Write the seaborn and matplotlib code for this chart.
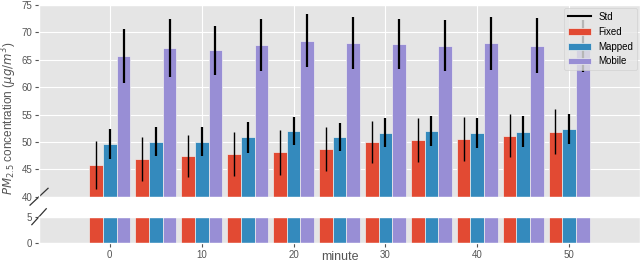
import numpy as np
import pandas as pd
import seaborn as sns
import matplotlib
matplotlib.use("Agg")
from matplotlib import pyplot as plt
from matplotlib.lines import Line2D
from matplotlib.patches import Patch

plt.style.use("ggplot")
plt.rcParams["font.family"] = ["Liberation Sans", "DejaVu Sans"]

# data ~~~~~~~~~~~~~~~~~~~~~~~~~~~~~~~~~~~~~~~~~~~~~~~~~~~~~~~~~~~~~~~~~
minutes = [0, 5, 10, 15, 20, 25, 30, 35, 40, 45, 50]
fixed_mean = [45.85, 46.95, 47.4, 47.75, 48.1, 48.7, 50.0, 50.35, 50.55, 51.15, 51.9]
fixed_std = [4.4, 4.0, 3.8, 4.0, 4.05, 3.95, 3.9, 4.0, 4.0, 3.9, 4.05]
mapped_mean = [49.7, 50.05, 50.05, 50.85, 51.95, 50.9, 51.65, 52.0, 51.65, 51.9, 52.4]
mapped_std = [2.75, 2.7, 2.65, 2.85, 2.55, 2.5, 2.65, 2.75, 2.7, 2.8, 2.7]
mobile_mean = [65.7, 67.1, 66.7, 67.75, 68.5, 68.1, 67.85, 67.6, 68.0, 67.6, 67.55]
mobile_std = [4.85, 5.3, 4.55, 4.75, 4.9, 4.75, 4.6, 4.7, 4.85, 4.95, 4.75]

series = ["Fixed", "Mapped", "Mobile"]
colors = {"Fixed": "#E24A33", "Mapped": "#348ABD", "Mobile": "#988ED5"}
err_lw = {"Fixed": 1.0, "Mapped": 1.6, "Mobile": 1.6}

df = pd.DataFrame({
    "minute": minutes * 3,
    "value": fixed_mean + mapped_mean + mobile_mean,
    "std": fixed_std + mapped_std + mobile_std,
    "type": ["Fixed"] * 11 + ["Mapped"] * 11 + ["Mobile"] * 11,
})

fig = plt.figure(figsize=(6.4, 2.63), dpi=100)
ax_top = fig.add_axes([0.061, 0.252, 0.939, 0.729])
ax_bot = fig.add_axes([0.061, 0.075, 0.939, 0.101], sharex=ax_top)

for ax in (ax_top, ax_bot):
    sns.barplot(data=df, x="minute", y="value", hue="type", hue_order=series,
                palette=colors, native_scale=True, width=0.9, saturation=1,
                errorbar=None, edgecolor="#EEEEEE", linewidth=0.5,
                legend=False, ax=ax)
    ax.set_xlabel("")
    ax.set_ylabel("")
    ax.tick_params(labelsize=7, colors="#555555", length=3, pad=2)

# error bars at the bar centres
for name, cont in zip(series, ax_top.containers):
    sub = df[df["type"] == name]
    xs = [b.get_x() + b.get_width() / 2 for b in cont]
    ax_top.errorbar(xs, sub["value"], yerr=sub["std"], fmt="none",
                    ecolor="black", elinewidth=err_lw[name], capsize=0)

ax_top.set_ylim(40, 75)
ax_bot.set_ylim(0, 5)
ax_bot.set_yticks([0, 5])
ax_top.set_xlim(-7.7, 57.7)
ax_top.set_xticks([0, 10, 20, 30, 40, 50])
ax_top.tick_params(axis="x", labelbottom=False, length=0)
ax_bot.set_xlabel("minute", fontsize=9, color="#555555")
ax_bot.xaxis.set_label_coords(0.5, -0.29)

# break marks
kw = dict(color="#333333", clip_on=False, lw=0.9)
ax_top.plot((-0.015, 0.015), (-0.044, 0.044), transform=ax_top.transAxes, **kw)
ax_bot.plot((-0.012, 0.012), (0.7, 1.3), transform=ax_bot.transAxes, **kw)

fig.text(0.014, 0.55, r"$PM_{2.5}$ concentration ($\mu g/m^3$)", rotation=90,
         va="center", ha="center", fontsize=8.5, color="#555555")

handles = [Line2D([], [], color="black", lw=1.5, label="Std")]
handles += [Patch(facecolor=colors[s], edgecolor="#EEEEEE", label=s) for s in series]
ax_top.legend(handles=handles, loc="upper right", fontsize=7, framealpha=0.8,
              borderaxespad=0.3, handlelength=2.3)

fig.savefig("out.png", dpi=100)
